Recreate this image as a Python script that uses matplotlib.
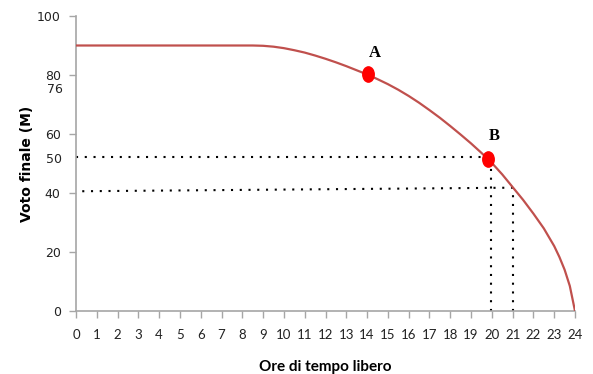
import matplotlib
matplotlib.use("Agg")
import matplotlib.pyplot as plt
from matplotlib.path import Path
from matplotlib.transforms import Affine2D

# curve (hours of free time -> final mark)
hours = [0, 8.5, 9.0, 9.5, 10.0, 10.5, 11.0, 11.5, 12.0, 12.5, 13.0, 13.5, 14.0,
         14.5, 15.0, 15.5, 16.0, 16.5, 17.0, 17.5, 18.0, 18.5, 19.0, 19.5, 20.0,
         20.5, 21.0, 21.5, 22.0, 22.5, 23.0, 23.25, 23.5, 23.75, 24.0]
marks = [90, 90, 89.9, 89.6, 89.1, 88.4, 87.6, 86.6, 85.5, 84.3, 83.0, 81.6, 80.2,
         78.6, 76.9, 75.0, 72.9, 70.6, 68.1, 65.5, 62.7, 59.8, 56.8, 53.6, 50.2,
         46.3, 42.0, 37.7, 33.0, 28.0, 22.0, 18.3, 14.0, 8.5, 0]

point_names = ["A", "B"]
point_x = [14.05, 19.8]
point_y = [80.4, 51.6]

# dotted guides
guide_b = (19.95, 52.2)
guide_c = (21.0, 41.8)
guide_c_start = 40.6

x_ticks = list(range(0, 25))
y_ticks = [0, 20, 40, 60, 80, 100]
extra_y_labels = ["50", "76"]
extra_y_pos = [52.0, 75.6]

grey = "#a6a6a6"
curve_red = "#c0504d"

fig = plt.figure(figsize=(5.93, 3.74), dpi=100)
ax = fig.add_axes([76 / 593, 1 - 311 / 374, (575 - 76) / 593, (311 - 16) / 374])

ax.plot(hours, marks, color=curve_red, lw=1.6, zorder=3, solid_joinstyle="round")

dots = dict(color="black", lw=1.5, linestyle=(0, (1, 3.2)), dash_capstyle="butt", zorder=2)
ax.plot([0, guide_b[0]], [guide_b[1], guide_b[1]], **dots)
ax.plot([guide_b[0], guide_b[0]], [0, guide_b[1]], **dots)
ax.plot([0.3, guide_c[0]], [guide_c_start, guide_c[1]], **dots)
ax.plot([guide_c[0], guide_c[0]], [0, guide_c[1]], **dots)

ellipse = Path.unit_circle().transformed(Affine2D().scale(0.75, 1.0))
ax.plot(point_x, point_y, linestyle="none", marker=ellipse, ms=11,
        color="#ff0000", zorder=4)
offsets = [(0.3, 7.0), (0.3, 7.6)]
for n, px, py, off in zip(point_names, point_x, point_y, offsets):
    ax.text(px + off[0], py + off[1], n, family="Liberation Serif",
            fontweight="bold", fontsize=12, ha="center", va="center")

ax.set_xlim(0, 24)
ax.set_ylim(0, 100)
ax.set_xticks(x_ticks)
ax.set_xticklabels([str(t) for t in x_ticks], family="Lato", fontsize=9.5, color="#222222")
ax.set_yticks(y_ticks)
ax.set_yticklabels([str(t) for t in y_ticks], family="DejaVu Sans", fontsize=9, color="#222222")
for lab, pos in zip(extra_y_labels, extra_y_pos):
    ax.text(-0.65, pos, lab, family="DejaVu Sans", fontsize=9, color="#222222",
            ha="right", va="center_baseline")

for s in ["top", "right"]:
    ax.spines[s].set_visible(False)
for s in ["left", "bottom"]:
    ax.spines[s].set_color(grey)
    ax.spines[s].set_linewidth(1.2)
ax.tick_params(axis="both", direction="out", length=5, width=1, color=grey)
ax.tick_params(axis="x", pad=8)
ax.tick_params(axis="y", pad=6)

ax.set_xlabel("Ore di tempo libero", family="Lato", fontweight="bold", fontsize=11, labelpad=14)
ax.set_ylabel("Voto finale (M)", family="DejaVu Sans", fontweight="bold", fontsize=10, labelpad=2)

fig.savefig("out.png", dpi=100)
